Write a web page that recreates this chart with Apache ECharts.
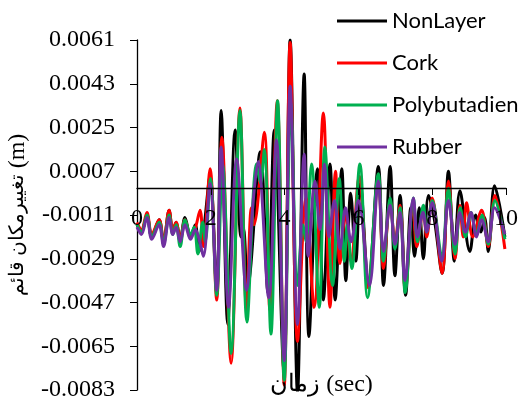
<!DOCTYPE html>
<html>
<head>
<meta charset="utf-8">
<script src="https://cdn.jsdelivr.net/npm/echarts@6/dist/echarts.min.js"></script>
<style>html,body{margin:0;padding:0;background:#fff}#c{width:526px;height:402px}</style>
</head>
<body>
<div id="c"></div>
<script>
const seriesNames = ['NonLayer', 'Cork', 'Polybutadien', 'Rubber'];
const xTicks = [0, 2, 4, 6, 8, 10];
const yTicks = [-0.0083, -0.0065, -0.0047, -0.0029, -0.0011, 0.0007, 0.0025, 0.0043, 0.0061];

const nonLayer = [[0,-0.0015],[0.12,-0.0018],[0.27,-0.0011],[0.4,-0.0020],[0.6,-0.0013],[0.72,-0.0022],[0.87,-0.0009],[0.97,-0.0018],[1.06,-0.0014],[1.17,-0.0021],[1.3,-0.0012],[1.45,-0.0020],[1.58,-0.0015],[1.68,-0.0026],[1.8,-0.0018],[1.98,0.0005],[2.16,-0.0043],[2.28,0.0032],[2.46,-0.0056],[2.66,0.0024],[2.82,-0.0020],[2.88,-0.0016],[3.0,-0.0040],[3.34,0.0015],[3.55,-0.0043],[3.72,0.0024],[3.98,-0.0075],[4.15,0.0061],[4.35,-0.0084],[4.53,0.0047],[4.66,-0.0061],[4.89,0.0008],[5.05,-0.0046],[5.23,0.0010],[5.37,-0.0046],[5.55,0.0008],[5.66,-0.0038],[5.79,-0.0002],[5.93,-0.0030],[6.05,0.0002],[6.27,-0.0038],[6.54,0.0009],[6.68,-0.0040],[6.86,0.0009],[6.99,-0.0036],[7.13,-0.0003],[7.28,-0.0044],[7.42,-0.0008],[7.52,-0.0028],[7.65,-0.0008],[7.76,-0.0029],[7.9,-0.0003],[8.05,-0.0012],[8.27,-0.0035],[8.44,0.0007],[8.6,-0.0030],[8.75,-0.0001],[9.02,-0.0026],[9.18,-0.0011],[9.32,-0.0018],[9.42,-0.0012],[9.52,-0.0026],[9.69,0.0001],[9.97,-0.0020]];

const cork = [[0,-0.0014],[0.12,-0.0017],[0.27,-0.0010],[0.4,-0.0019],[0.6,-0.0013],[0.72,-0.0022],[0.87,-0.0009],[0.97,-0.0017],[1.06,-0.0014],[1.17,-0.0021],[1.3,-0.0013],[1.45,-0.0020],[1.57,-0.0017],[1.71,-0.0009],[1.8,-0.0024],[1.98,0.0008],[2.16,-0.0046],[2.3,0.0021],[2.55,-0.0072],[2.79,0.0033],[2.97,-0.0050],[3.1,-0.0008],[3.17,-0.0015],[3.45,0.0023],[3.6,-0.0050],[3.8,0.0036],[3.99,-0.0081],[4.15,0.0060],[4.35,-0.0063],[4.58,-0.0004],[4.8,-0.0049],[5.05,0.0031],[5.23,-0.0049],[5.38,0.0007],[5.5,-0.0031],[5.65,-0.0010],[5.8,-0.0030],[6.02,0.0005],[6.27,-0.0041],[6.54,0.0004],[6.68,-0.0033],[6.86,-0.0005],[6.99,-0.0022],[7.13,-0.0007],[7.27,-0.0042],[7.48,-0.0006],[7.58,-0.0024],[7.76,-0.0009],[7.85,-0.0020],[8.0,-0.0004],[8.27,-0.0035],[8.44,0.0003],[8.62,-0.0029],[8.75,-0.0007],[8.84,-0.0020],[8.93,-0.0006],[9.1,-0.0020],[9.34,-0.0009],[9.52,-0.0024],[9.7,-0.0003],[9.97,-0.0025]];

const polybutadien = [[0,-0.0015],[0.12,-0.0018],[0.27,-0.0011],[0.4,-0.0020],[0.6,-0.0014],[0.72,-0.0023],[0.87,-0.0011],[0.97,-0.0019],[1.06,-0.0015],[1.17,-0.0024],[1.3,-0.0013],[1.45,-0.0019],[1.55,-0.0016],[1.65,-0.0027],[1.78,-0.0014],[1.85,-0.0022],[1.99,0.0004],[2.16,-0.0044],[2.32,0.0010],[2.55,-0.0068],[2.79,0.0032],[2.98,-0.0055],[3.24,0.0010],[3.35,0.0002],[3.45,0.0016],[3.63,-0.0060],[3.81,0.0036],[3.99,-0.0079],[4.17,0.0035],[4.35,-0.0040],[4.5,-0.0015],[4.58,-0.0022],[4.73,0.0010],[4.94,-0.0049],[5.09,0.0017],[5.3,-0.0040],[5.48,0.0004],[5.62,-0.0030],[5.7,-0.0015],[5.82,-0.0033],[6.04,0.0010],[6.25,-0.0045],[6.54,0.0006],[6.68,-0.0030],[6.86,-0.0004],[6.99,-0.0025],[7.13,-0.0008],[7.27,-0.0043],[7.49,-0.0004],[7.6,-0.0022],[7.76,-0.0007],[7.85,-0.0018],[8.0,-0.0005],[8.26,-0.0028],[8.44,0.0000],[8.62,-0.0027],[8.76,-0.0008],[8.9,-0.0020],[9.05,-0.0010],[9.2,-0.0019],[9.35,-0.0011],[9.52,-0.0023],[9.7,-0.0005],[9.97,-0.0021]];

const rubber = [[0,-0.0016],[0.12,-0.0019],[0.27,-0.0012],[0.4,-0.0021],[0.6,-0.0015],[0.72,-0.0024],[0.87,-0.0012],[0.97,-0.0019],[1.06,-0.0016],[1.17,-0.0022],[1.3,-0.0015],[1.45,-0.0021],[1.58,-0.0017],[1.7,-0.0022],[1.8,-0.0028],[1.98,0.0002],[2.16,-0.0042],[2.28,0.0017],[2.48,-0.0049],[2.7,0.0012],[2.97,-0.0042],[3.15,-0.0005],[3.28,0.0011],[3.57,-0.0045],[3.78,0.0020],[3.99,-0.0071],[4.15,0.0042],[4.35,-0.0056],[4.53,0.0014],[4.64,-0.0028],[4.82,0.0003],[4.96,-0.0017],[5.08,0.0010],[5.2,-0.0020],[5.35,-0.0005],[5.5,-0.0025],[5.65,-0.0008],[5.8,-0.0022],[6.0,-0.0005],[6.3,-0.0040],[6.54,0.0003],[6.68,-0.0026],[6.86,-0.0007],[6.99,-0.0023],[7.13,-0.0010],[7.26,-0.0038],[7.49,-0.0004],[7.6,-0.0020],[7.75,-0.0010],[7.85,-0.0018],[8.0,-0.0006],[8.26,-0.0030],[8.44,-0.0005],[8.62,-0.0023],[8.75,-0.0010],[8.9,-0.0018],[9.05,-0.0010],[9.2,-0.0020],[9.34,-0.0013],[9.52,-0.0022],[9.69,-0.0008],[9.97,-0.0019]];

const colors = ['#000000', '#FF0000', '#00B050', '#7030A0'];
const allData = [nonLayer, cork, polybutadien, rubber];

const chart = echarts.init(document.getElementById('c'), null, {renderer: 'canvas'});
const serif = "'Liberation Serif', 'Times New Roman', 'DejaVu Serif', serif";
chart.setOption({
  animation: false,
  color: colors,
  grid: {left: 137, right: 20, top: 40, bottom: 12, containLabel: false, outerBoundsMode: 'none'},
  legend: {
    orient: 'vertical', left: 337, top: 10, padding: 0,
    itemWidth: 50, itemHeight: 3, itemGap: 20,
    icon: 'rect',
    textStyle: {fontFamily: 'Lato, "Open Sans", sans-serif', fontSize: 22, color: '#000'},
    data: seriesNames
  },
  xAxis: {
    type: 'value', min: xTicks[0], max: xTicks[xTicks.length - 1], interval: 2,
    offset: -202, z: 10,
    name: 'زمان (sec)', nameLocation: 'middle', nameGap: 185,
    nameTextStyle: {fontFamily: serif, fontSize: 24, color: '#000'},
    axisLine: {onZero: false, lineStyle: {color: '#000', width: 1.3}},
    axisTick: {show: true, length: 7, lineStyle: {color: '#000'}},
    axisLabel: {margin: 19, fontFamily: serif, fontSize: 24, color: '#000'},
    splitLine: {show: false}
  },
  yAxis: {
    type: 'value', min: yTicks[0], max: yTicks[yTicks.length - 1], interval: 0.0018,
    name: '{ar|تغییرمکان قائم} {m|(m)}', nameLocation: 'middle', nameGap: 102, nameRotate: 90,
    nameTextStyle: {fontFamily: serif, fontSize: 24, color: '#000',
      rich: {ar: {fontFamily: serif, fontSize: 20, color: '#000'}, m: {fontFamily: serif, fontSize: 24, color: '#000'}}},
    axisLine: {show: true, onZero: false, lineStyle: {color: '#000', width: 1.3}},
    axisTick: {show: true, length: 7, lineStyle: {color: '#000'}},
    axisLabel: {margin: 22, fontFamily: serif, fontSize: 24, color: '#000',
      formatter: v => v.toFixed(4)},
    splitLine: {show: false}
  },
  series: allData.map((d, i) => ({
    name: seriesNames[i], type: 'line', data: d, smooth: 0.35,
    symbol: 'none', lineStyle: {width: 3, color: colors[i]}, z: 2 + i
  }))
});
</script>
</body>
</html>
